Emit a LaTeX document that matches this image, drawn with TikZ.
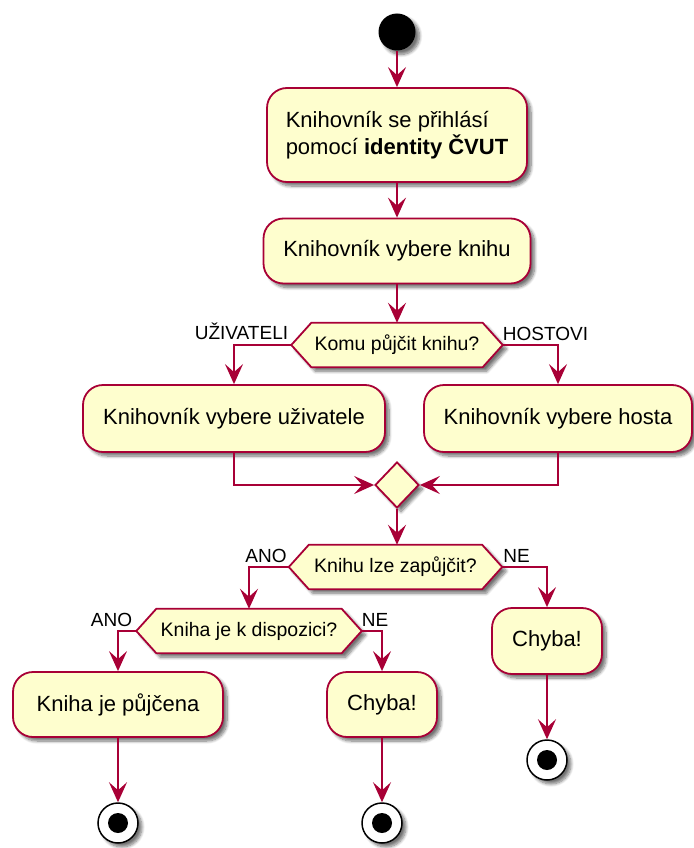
\documentclass[tikz,border=0pt]{standalone}
\usepackage{fontspec}
\setmainfont{Liberation Sans}
\usetikzlibrary{arrows.meta,shapes.geometric,shadows.blur,backgrounds}
\definecolor{actfill}{HTML}{FEFECE}
\definecolor{actline}{HTML}{A80036}

\tikzset{
  softshadow/.style={blur shadow={shadow xshift=4pt, shadow yshift=-4pt,
      shadow blur radius=3pt, shadow blur steps=8, shadow opacity=55}},
  activity/.style={draw=actline, fill=actfill, line width=1.8pt,
      rounded corners=20pt, minimum height=66pt, inner sep=0pt,
      font=\fontsize{22}{27}\selectfont, softshadow},
  dectext/.style={minimum height=44pt, inner sep=0pt,
      font=\fontsize{19.5}{23}\selectfont},
  hexa/.style={draw=actline, fill=actfill, line width=1.8pt, softshadow},
  merge/.style={diamond, draw=actline, fill=actfill, line width=1.8pt,
      minimum width=44pt, minimum height=46pt, inner sep=0pt, softshadow},
  startnode/.style={circle, fill=black, minimum size=37pt, inner sep=0pt,
      softshadow},
  stopnode/.style={circle, draw=black, fill=white, line width=1.5pt,
      minimum size=40pt, inner sep=0pt, softshadow,
      path picture={\fill[black] (path picture bounding box.center) circle (10pt);}},
  flow/.style={draw=actline, line width=1.8pt,
      -{Stealth[length=20pt,width=18pt,inset=8pt]}},
  guard/.style={font=\fontsize{19}{22}\selectfont, inner sep=0pt},
}

% hexagonal decision outline around a text node of the same extent
\newcommand\hexagonfor[1]{%
  \path[hexa] (#1.west) -- ([xshift=20pt]#1.north west)
    -- ([xshift=-20pt]#1.north east) -- (#1.east)
    -- ([xshift=-20pt]#1.south east) -- ([xshift=20pt]#1.south west) -- cycle;}

\begin{document}
\begin{tikzpicture}[x=1pt, y=-1pt]
  \useasboundingbox (0,0) rectangle (693,848);

  % nodes
  \node[startnode] (start) at (397,32) {};
  \node[activity, minimum width=260pt, minimum height=94pt, align=left] (a1) at (397,135)
    {Knihovník se přihlásí\\pomocí \textbf{identity ČVUT}};
  \node[activity, minimum width=267pt, minimum height=65pt] (a2) at (397,251) {Knihovník vybere knihu};
  \node[dectext, minimum width=211pt] (d1) at (397,345) {Komu půjčit knihu?};
  \node[activity, minimum width=302pt, minimum height=67pt] (a3) at (234,418.5) {Knihovník vybere uživatele};
  \node[activity, minimum width=268pt, minimum height=67pt] (a4) at (558,418.5) {Knihovník vybere hosta};
  \node[merge] (m) at (397,485) {};
  \node[dectext, minimum width=213pt] (d2) at (395.5,567) {Knihu lze zapůjčit?};
  \node[dectext, minimum width=225pt] (d3) at (249,631) {Kniha je k dispozici?};
  \node[activity, minimum width=110pt] (c1) at (547,641) {Chyba!};
  \node[activity, minimum width=210pt, minimum height=65pt] (k1) at (118,704.5) {Kniha je půjčena};
  \node[activity, minimum width=110pt, minimum height=65pt] (c2) at (382,704.5) {Chyba!};
  \node[stopnode] (e1) at (118,823) {};
  \node[stopnode] (e2) at (382,823) {};
  \node[stopnode] (e3) at (547,760) {};

  % decision outlines behind their texts
  \begin{pgfonlayer}{background}
    \hexagonfor{d1}
    \hexagonfor{d2}
    \hexagonfor{d3}
  \end{pgfonlayer}

  % guard labels
  \node[guard, anchor=base east] (g1) at ([xshift=-3pt,yshift=6pt]d1.west) {UŽIVATELI};
  \node[guard, anchor=base west] (g2) at ([xshift=0pt,yshift=5pt]d1.east) {HOSTOVI};
  \node[guard, anchor=base east] (g3) at ([xshift=-2pt,yshift=5pt]d2.west) {ANO};
  \node[guard, anchor=base west] (g4) at ([xshift=1pt,yshift=5pt]d2.east) {NE};
  \node[guard, anchor=base east] (g5) at ([xshift=-4pt,yshift=5pt]d3.west) {ANO};
  \node[guard, anchor=base west] (g6) at ([xshift=0pt,yshift=5pt]d3.east) {NE};

  % connectors
  \draw[flow] (start) -- (a1);
  \draw[flow] (a1) -- (a2);
  \draw[flow] (a2.south) -- (a2.south |- d1.north);
  \draw[flow] (d1.west) -| (a3.north);
  \draw[flow] (d1.east) -| (a4.north);
  \draw[flow] (a3.south) |- (m.west);
  \draw[flow] (a4.south) |- (m.east);
  \draw[flow] (m.south) -- (m.south |- d2.north);
  \draw[flow] (d2.west) -| (d3.north);
  \draw[flow] (d2.east) -| (c1.north);
  \draw[flow] (d3.west) -| (k1.north);
  \draw[flow] (d3.east) -| (c2.north);
  \draw[flow] (k1) -- (e1);
  \draw[flow] (c2) -- (e2);
  \draw[flow] (c1) -- (e3);
\end{tikzpicture}
\end{document}
